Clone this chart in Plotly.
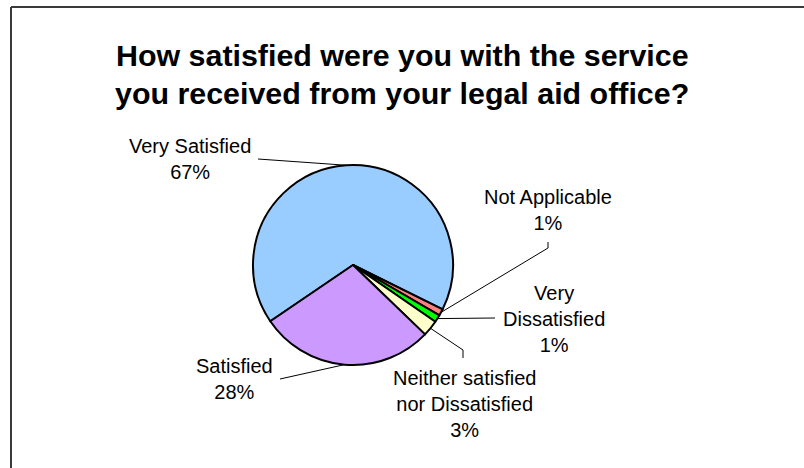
import math
import plotly.graph_objects as go

# ---- data ----
categories = ["Very Satisfied", "Not Applicable", "Very Dissatisfied",
              "Neither satisfied nor Dissatisfied", "Satisfied"]
values = [66.8, 1.1, 1.2, 2.6, 28.3]
label_texts = ["Very Satisfied<br>67%", "Not Applicable<br>1%", "Very<br>Dissatisfied<br>1%",
               "Neither satisfied<br>nor Dissatisfied<br>3%", "Satisfied<br>28%"]
colors = ["#99CCFF", "#FF8080", "#00FF00", "#FFFFCC", "#CC99FF"]

W, H = 804, 468
CX, CY, R = 353, 265, 100
ROTATION = 235.8

# label positions (pixels, centre of text block) and leader anchor points (pixels)
label_pos = [(190, 159), (548, 210), (554, 319), (465, 404), (235, 379)]
leader_ends = [[(258, 159)], [(548, 248), (548, 242)], [(495, 318)],
               [(463, 350), (463, 358)], [(280, 379)]]

def px(x):
    return x / W

def py(y):
    return 1 - y / H

fig = go.Figure(go.Pie(
    labels=categories, values=values, sort=False, direction="clockwise",
    rotation=ROTATION, textinfo="none", hoverinfo="label+percent",
    marker=dict(colors=colors, line=dict(color="black", width=2)),
    domain=dict(x=[px(CX - R), px(CX + R)], y=[py(CY + R), py(CY - R)]),
    showlegend=False,
))

shapes = []
annotations = []
total = sum(values)
acc = 0.0
for i, v in enumerate(values):
    mid = ROTATION + 360 * (acc + v / 2) / total  # clockwise from 12 o'clock
    acc += v
    a = math.radians(mid)
    ex = CX + R * math.sin(a)
    ey = CY - R * math.cos(a)
    pts = [(ex, ey)] + leader_ends[i]
    for (x0, y0), (x1, y1) in zip(pts[:-1], pts[1:]):
        shapes.append(dict(type="line", xref="paper", yref="paper",
                           x0=px(x0), y0=py(y0), x1=px(x1), y1=py(y1),
                           line=dict(color="black", width=1)))
    lx, ly = label_pos[i]
    annotations.append(dict(text=label_texts[i], x=px(lx), y=py(ly), xref="paper", yref="paper",
                            xanchor="center", yanchor="middle", showarrow=False, align="center",
                            font=dict(family="Liberation Sans, Arial", size=20, color="black")))

title_lines = ["How satisfied were you with the service",
               "you received from your legal aid office?"]
for t, y in zip(title_lines, [55, 93]):
    annotations.append(dict(text="<b>" + t + "</b>", x=0.5, y=py(y), xref="paper", yref="paper",
                            xanchor="center", yanchor="middle", showarrow=False,
                            font=dict(family="Liberation Sans, Arial", size=30.4, color="black")))

# chart-area frame (top and left edges visible)
shapes.append(dict(type="line", xref="paper", yref="paper", x0=px(11), y0=py(7), x1=1.01, y1=py(7),
                   line=dict(color="#3a3a3a", width=2)))
shapes.append(dict(type="line", xref="paper", yref="paper", x0=px(11), y0=py(7), x1=px(11), y1=-0.01,
                   line=dict(color="#3a3a3a", width=2)))

fig.update_layout(width=W, height=H, margin=dict(l=0, r=0, t=0, b=0),
                  paper_bgcolor="white", plot_bgcolor="white",
                  shapes=shapes, annotations=annotations)

fig.write_html("out.html")
